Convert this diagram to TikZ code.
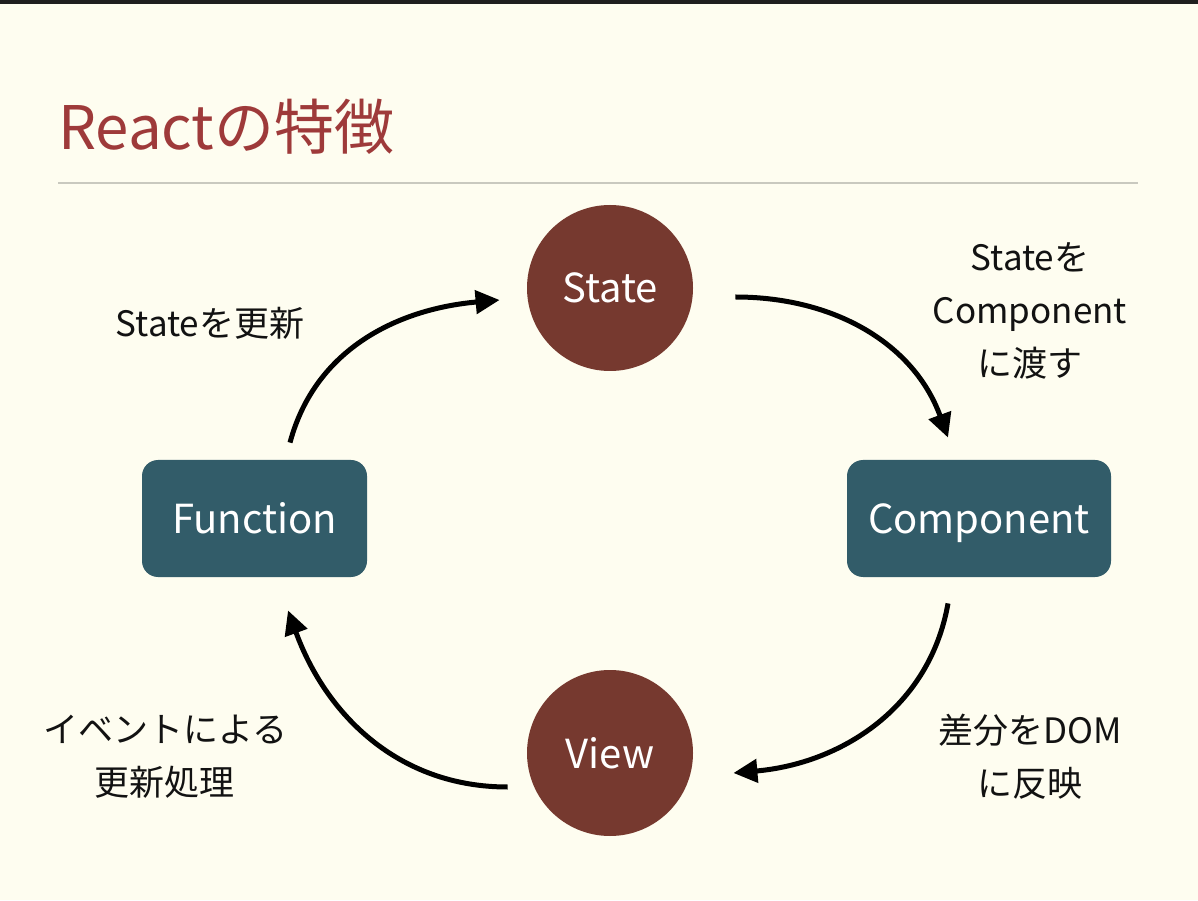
\documentclass[tikz,border=0pt]{standalone}
\usepackage{fontspec}
\setmainfont{Noto Sans CJK JP}
\usetikzlibrary{arrows.meta,calc,positioning}
\definecolor{bgcream}{RGB}{254,253,240}
\definecolor{titlered}{RGB}{158,58,58}
\definecolor{statered}{RGB}{118,57,47}
\definecolor{boxteal}{RGB}{50,92,105}
\definecolor{rulegray}{RGB}{201,201,191}

\begin{document}
\begin{tikzpicture}[x=0.5pt, y=0.5pt,
    circ/.style={circle, fill=statered, minimum size=83pt, inner sep=0pt, text=white, font=\fontsize{20}{24}\selectfont},
    box/.style={rounded corners=8pt, fill=boxteal, minimum height=58.5pt, inner sep=0pt, text height=15pt, text depth=0pt, text=white, font=\fontsize{20}{24}\selectfont},
    flow/.style={line width=2.5pt, -{Triangle[length=12pt,width=11.5pt]}},
    lbl/.style={align=center, text=black!93, font=\fontsize{17.5}{26.5}\selectfont}]
            % Draw background
            \fill[bgcream] (0,0) rectangle (1198,900);
            \fill[black!88] (0,896) rectangle (1198,900);
            \useasboundingbox (0,0) rectangle (1198,900);
            % Title and rule
            \node[anchor=base west, inner sep=0pt, text=titlered, font=\fontsize{30}{36}\selectfont] (title) at (58,750) {Reactの特徴};
            \coordinate (ruleL) at (58,717);
            \coordinate (ruleR) at (1138,717);
            \draw[rulegray, line width=1pt] (ruleL) -- (ruleR);
            % Define nodes
            \node[circ] (state) at (610,612) {State};
            \node[circ] (view) at (610,147) {View};
            \node[box, minimum width=112.5pt] (func) at (254.5,381.5) {Function};
            \node[box, minimum width=132pt] (comp) at (979,381.5) {Component};
            % Draw the cycle
            \draw[flow] ([shift={(42,-9)}]state.east) to[out=0, in=110] ([shift={(-31,22)}]comp.north);
            \draw[flow] ([shift={(-31,-26)}]comp.south) to[out=-100, in=5] ([shift={(40,-20)}]view.east);
            \draw[flow] ([shift={(-19,-34)}]view.west) to[out=180, in=-70] ([shift={(33.5,-33)}]func.south);
            \draw[flow] ([shift={(35.5,17)}]func.north) to[out=75, in=185] ([shift={(-27,-12)}]state.west);
            % Label the arrows
            \node[lbl] (lupdate) at (210,577) {Stateを更新};
            \node[lbl] (lpass) at (1030,589) {Stateを\\Component\\に渡す};
            \node[lbl] (ldom) at (1030,143) {差分をDOM\\に反映};
            \node[lbl] (levent) at (165,143) {イベントによる\\更新処理};
\end{tikzpicture}
\end{document}
